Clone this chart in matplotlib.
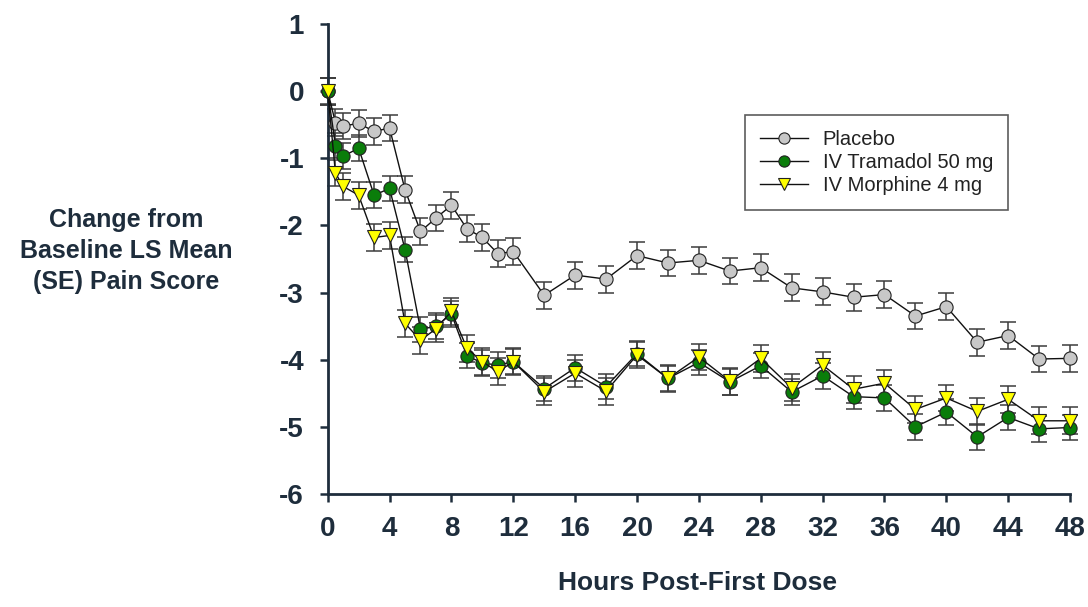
import matplotlib
matplotlib.use("Agg")
import matplotlib.pyplot as plt
from matplotlib.lines import Line2D

# Time points (hours post-first dose)
hours = [0, 0.5, 1, 2, 3, 4, 5, 6, 7, 8, 9, 10, 11, 12, 14, 16, 18, 20, 22, 24,
         26, 28, 30, 32, 34, 36, 38, 40, 42, 44, 46, 48]

placebo = [0.0, -0.47, -0.52, -0.48, -0.60, -0.55, -1.47, -2.09, -1.89, -1.70,
           -2.05, -2.18, -2.42, -2.39, -3.04, -2.74, -2.80, -2.45, -2.56, -2.52,
           -2.68, -2.63, -2.93, -2.99, -3.07, -3.03, -3.35, -3.21, -3.74, -3.64,
           -3.99, -3.98]
tramadol = [0.0, -0.81, -0.97, -0.85, -1.55, -1.45, -2.36, -3.55, -3.50, -3.32,
            -3.94, -4.05, -4.08, -4.03, -4.43, -4.12, -4.40, -3.91, -4.28, -4.04,
            -4.33, -4.09, -4.48, -4.24, -4.55, -4.57, -5.00, -4.78, -5.15, -4.86,
            -5.03, -5.01]
morphine = [0.0, -1.22, -1.42, -1.55, -2.18, -2.15, -3.46, -3.71, -3.54, -3.28,
            -3.83, -4.03, -4.18, -4.03, -4.48, -4.20, -4.47, -3.93, -4.28, -3.96,
            -4.32, -3.98, -4.42, -4.08, -4.44, -4.35, -4.74, -4.57, -4.77, -4.59,
            -4.91, -4.91]

placebo_se = [0.20] * len(hours)
tramadol_se = [0.19] * len(hours)
morphine_se = [0.20] * len(hours)

labels = ["Placebo", "IV Tramadol 50 mg", "IV Morphine 4 mg"]
x_ticks = list(range(0, 49, 4))
y_ticks = list(range(-6, 2))

ink = "#1e2d3c"
plt.rcParams["font.family"] = ["Liberation Sans", "DejaVu Sans"]

fig = plt.figure(figsize=(10.88, 6.07), dpi=100)
ax = fig.add_axes([0.3012, 0.1862, 0.9835 - 0.3012, 0.9605 - 0.1862])

styles = [
    (placebo, placebo_se, dict(marker="o", mfc="#c8c8c8", ms=9.5)),
    (tramadol, tramadol_se, dict(marker="o", mfc="#0a7d0a", ms=9.5)),
    (morphine, morphine_se, dict(marker="v", mfc="#ffff00", ms=10)),
]
handles = []
for (vals, se, st), lab in zip(styles, labels):
    ax.errorbar(hours, vals, yerr=se, fmt="none", ecolor="#3c3c3c",
                elinewidth=1.1, capsize=6, capthick=1.1, zorder=2,
                clip_on=False)
    ax.plot(hours, vals, color="#111111", lw=1.0, marker=st["marker"],
            mfc=st["mfc"], mec="#222222", mew=0.8, ms=st["ms"], zorder=3,
            clip_on=False)
    handles.append(Line2D([], [], color="#111111", lw=1.0, marker=st["marker"],
                          mfc=st["mfc"], mec="#222222", mew=0.8,
                          ms=st["ms"] * 0.85))

ax.set_xlim(0, 48)
ax.set_ylim(-6, 1)
ax.set_xticks(x_ticks)
ax.set_yticks(y_ticks)
ax.set_yticklabels([str(v) for v in y_ticks])

for side in ("top", "right"):
    ax.spines[side].set_visible(False)
for side in ("left", "bottom"):
    ax.spines[side].set_color(ink)
    ax.spines[side].set_linewidth(2.0)

ax.tick_params(axis="both", direction="out", length=6, width=1.8, color=ink,
               labelsize=20, labelcolor=ink)
ax.tick_params(axis="x", pad=10)
ax.tick_params(axis="y", pad=11)
for lbl in ax.get_xticklabels() + ax.get_yticklabels():
    lbl.set_fontweight("bold")

fig.text(0.1163, 0.5865, "Change from\nBaseline LS Mean\n(SE) Pain Score",
         ha="center", va="center", fontsize=18, fontweight="bold",
         color=ink, linespacing=1.35)
fig.text(0.641, 0.04, "Hours Post-First Dose", ha="center", va="center",
         fontsize=19, fontweight="bold", color=ink)

leg = ax.legend(handles, labels, loc="upper left",
                bbox_to_anchor=((745 - 327.7) / 742.3, (494 - 115) / 470),
                frameon=True, fancybox=False, fontsize=14.5,
                handlelength=2.4, borderpad=0.75, labelspacing=0.2,
                handletextpad=0.7, borderaxespad=0)
leg.get_frame().set_edgecolor("#333333")
leg.get_frame().set_linewidth(1.2)
for t in leg.get_texts():
    t.set_color("#222222")

fig.savefig("out.png", dpi=100)
